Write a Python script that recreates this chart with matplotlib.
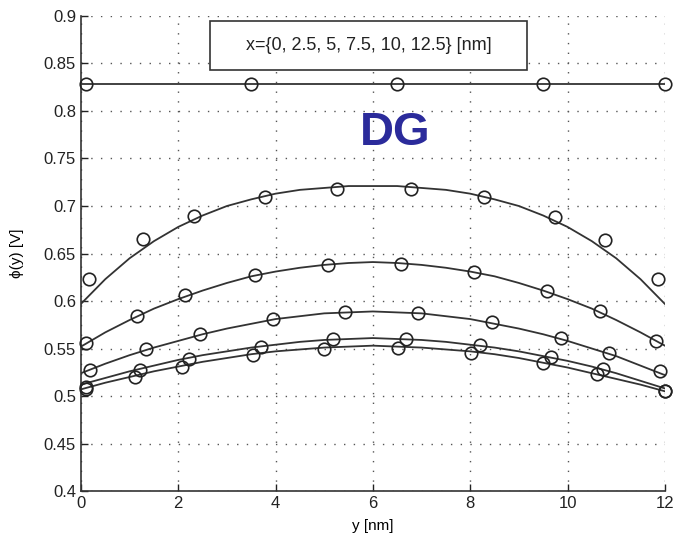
import matplotlib.pyplot as plt
from matplotlib.patches import Rectangle

plt.rcParams['font.family'] = ['Liberation Sans', 'DejaVu Sans']

# smooth model curves, every 0.5 nm
y_line = [0, 0.5, 1, 1.5, 2, 2.5, 3, 3.5, 4, 4.5, 5, 5.5, 6,
          6.5, 7, 7.5, 8, 8.5, 9, 9.5, 10, 10.5, 11, 11.5, 12]
phi_x0 = [0.828] * 25
phi_x1 = [0.597, 0.623, 0.645, 0.663, 0.678, 0.690, 0.700, 0.707, 0.713, 0.717, 0.719, 0.721, 0.721,
          0.721, 0.719, 0.717, 0.713, 0.707, 0.700, 0.690, 0.678, 0.663, 0.645, 0.623, 0.597]
phi_x2 = [0.552, 0.567, 0.580, 0.592, 0.602, 0.611, 0.619, 0.626, 0.631, 0.635, 0.638, 0.640, 0.641,
          0.640, 0.638, 0.635, 0.631, 0.626, 0.619, 0.611, 0.602, 0.592, 0.580, 0.567, 0.553]
phi_x3 = [0.524, 0.534, 0.543, 0.551, 0.558, 0.565, 0.571, 0.576, 0.581, 0.584, 0.587, 0.588, 0.589,
          0.588, 0.587, 0.584, 0.581, 0.576, 0.571, 0.565, 0.558, 0.550, 0.542, 0.532, 0.522]
phi_x4 = [0.512, 0.519, 0.526, 0.532, 0.538, 0.543, 0.547, 0.551, 0.554, 0.557, 0.559, 0.560, 0.561,
          0.560, 0.559, 0.557, 0.554, 0.551, 0.547, 0.542, 0.537, 0.531, 0.524, 0.516, 0.508]
phi_x5 = [0.507, 0.514, 0.520, 0.526, 0.531, 0.536, 0.540, 0.544, 0.547, 0.549, 0.551, 0.552, 0.553,
          0.552, 0.551, 0.549, 0.547, 0.544, 0.540, 0.535, 0.530, 0.524, 0.518, 0.512, 0.505]

# simulated points (circles)
y_pts0 = [0.1, 3.5, 6.5, 9.5, 12.0]
phi_pts0 = [0.828, 0.828, 0.828, 0.828, 0.828]
y_pts1 = [0.16, 1.27, 2.32, 3.78, 5.27, 6.78, 8.28, 9.74, 10.77, 11.86]
phi_pts1 = [0.623, 0.665, 0.690, 0.709, 0.718, 0.718, 0.709, 0.688, 0.664, 0.623]
y_pts2 = [0.1, 1.15, 2.14, 3.58, 5.08, 6.58, 8.07, 9.57, 10.66, 11.81]
phi_pts2 = [0.556, 0.584, 0.606, 0.627, 0.638, 0.639, 0.631, 0.611, 0.589, 0.558]
y_pts3 = [0.18, 1.34, 2.45, 3.94, 5.42, 6.92, 8.44, 9.86, 10.85, 11.9]
phi_pts3 = [0.527, 0.549, 0.565, 0.581, 0.588, 0.587, 0.578, 0.561, 0.545, 0.526]
y_pts4 = [0.1, 1.21, 2.22, 3.69, 5.19, 6.69, 8.2, 9.66, 10.72, 12.0]
phi_pts4 = [0.509, 0.527, 0.539, 0.552, 0.560, 0.560, 0.554, 0.541, 0.528, 0.505]
y_pts5 = [0.1, 1.11, 2.07, 3.53, 5.0, 6.51, 8.01, 9.5, 10.6, 12.0]
phi_pts5 = [0.507, 0.520, 0.531, 0.543, 0.550, 0.551, 0.545, 0.535, 0.523, 0.505]

x_ticks = [0, 2, 4, 6, 8, 10, 12]
y_ticks = [0.4, 0.45, 0.5, 0.55, 0.6, 0.65, 0.7, 0.75, 0.8, 0.85, 0.9]
y_tick_labels = ['0.4', '0.45', '0.5', '0.55', '0.6', '0.65', '0.7', '0.75', '0.8', '0.85', '0.9']

fig = plt.figure(figsize=(6.77, 5.44), dpi=100)
ax = fig.add_axes([0.1196, 0.0974, 0.8624, 0.8732])

line_col = '#333333'
for phi in [phi_x0, phi_x1, phi_x2, phi_x3, phi_x4, phi_x5]:
    ax.plot(y_line, phi, color=line_col, lw=1.3, zorder=3)

pts = [(y_pts0, phi_pts0), (y_pts1, phi_pts1), (y_pts2, phi_pts2),
       (y_pts3, phi_pts3), (y_pts4, phi_pts4), (y_pts5, phi_pts5)]
for yy, pp in pts:
    ax.plot(yy, pp, 'o', ms=9, mfc='none', mec='#222222', mew=1.2, zorder=4, clip_on=False)

ax.set_xlim(0, 12)
ax.set_ylim(0.4, 0.9)
ax.set_xticks(x_ticks)
ax.set_yticks(y_ticks)
ax.set_yticklabels(y_tick_labels)
ax.tick_params(direction='in', length=5, width=1, labelsize=12, colors='#222222')
ax.grid(True, color='#555555', linestyle=(0, (1, 6)), linewidth=1.0)
ax.spines['top'].set_visible(False)
ax.spines['right'].set_visible(False)
for s in ['left', 'bottom']:
    ax.spines[s].set_linewidth(1.2)
    ax.spines[s].set_color('#333333')

ax.set_xlabel('y [nm]', fontsize=11, labelpad=6)
ax.set_ylabel('ϕ(y) [V]', fontsize=11, labelpad=14)

# label box
ax.add_patch(Rectangle((0.221, 0.886), 0.543, 0.103, transform=ax.transAxes,
                       facecolor='white', edgecolor='#333333', lw=1.2, zorder=5))
ax.text(0.4925, 0.9375, 'x={0, 2.5, 5, 7.5, 10, 12.5} [nm]', transform=ax.transAxes,
        ha='center', va='center', fontsize=13, color='#222222', zorder=6)

ax.text(6.45, 0.777, 'DG', color='#2b2b9b', fontsize=34, fontweight='bold',
        ha='center', va='center', zorder=6)

fig.savefig('out.png', dpi=100)
